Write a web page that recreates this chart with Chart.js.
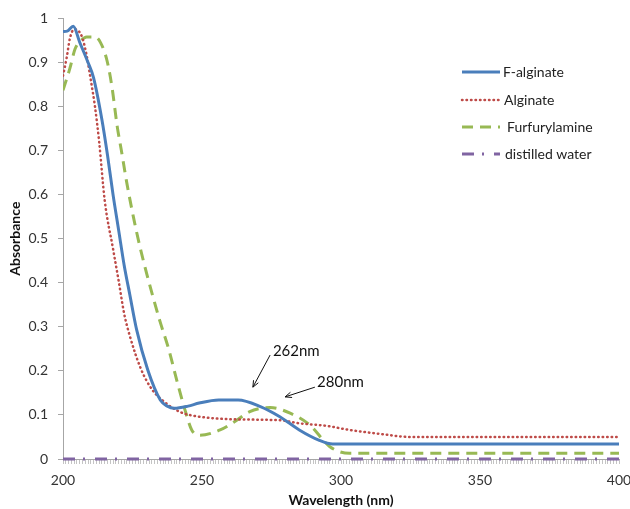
<!DOCTYPE html>
<html>
<head>
<meta charset="utf-8">
<script src="https://cdn.jsdelivr.net/npm/chart.js@4.4.0/dist/chart.umd.min.js"></script>
<style>
  html, body { margin: 0; padding: 0; background: #fff; }
</style>
</head>
<body>
<canvas id="uvChart" width="630" height="509"></canvas>
<script>
// Спектры поглощения, значения
const fAlginateNm = [200, 201.5, 203.7, 206, 209, 211, 214, 216, 218, 220, 222, 224, 226.5, 230.5, 235, 237.5, 240, 245, 249, 256, 263, 271, 278, 285, 292, 297, 400];
const fAlginateAbs = [0.97, 0.971, 0.982, 0.946, 0.9, 0.865, 0.77, 0.69, 0.6, 0.52, 0.44, 0.374, 0.293, 0.202, 0.134, 0.12, 0.115, 0.12, 0.127, 0.134, 0.134, 0.119, 0.096, 0.066, 0.043, 0.034, 0.034];

const alginateNm = [200, 201.3, 202.5, 204, 205.5, 207, 208.5, 210, 211.5, 213, 215, 218, 220, 222, 224, 228, 232, 237, 242, 248, 262, 278, 285, 295, 303, 314, 325, 400];
const alginateAbs = [0.87, 0.91, 0.955, 0.975, 0.972, 0.955, 0.916, 0.86, 0.8, 0.72, 0.587, 0.477, 0.405, 0.33, 0.28, 0.205, 0.158, 0.127, 0.107, 0.097, 0.09, 0.088, 0.081, 0.075, 0.066, 0.057, 0.05, 0.05];

const furfNm = [200, 202.5, 204.3, 206.5, 208.5, 211.5, 213.5, 215.8, 217.6, 219.5, 221, 223, 225.3, 227.7, 230.1, 232.5, 235, 238, 241, 243.9, 246.3, 249.3, 256.5, 262.5, 267, 274.5, 281.7, 288.8, 296, 303, 400];
const furfAbs = [0.837, 0.887, 0.93, 0.95, 0.958, 0.958, 0.945, 0.905, 0.845, 0.755, 0.7, 0.625, 0.55, 0.481, 0.421, 0.365, 0.31, 0.25, 0.177, 0.111, 0.066, 0.054, 0.066, 0.088, 0.107, 0.117, 0.104, 0.077, 0.028, 0.013, 0.013];

const waterNm = [200, 400];
const waterAbs = [0, 0];

const seriesLabels = ['F-alginate', 'Alginate', 'Furfurylamine', 'distilled water'];

// Подписи со стрелками: [текст, x текста, y текста, x начала, y начала, x конца, y конца]
const notes = [
    ['262nm', 275.5, 0.245, 274.5, 0.236, 268.3, 0.163],
    ['280nm', 291.4, 0.175, 290.6, 0.163, 279.9, 0.141]
];

const toPoints = (xs, ys) => xs.map((x, i) => ({ x: x, y: ys[i] }));

const ctx = document.getElementById('uvChart');

// Легенда внутри графика
const legendInside = {
    id: 'legendInside',
    afterDraw(chart) {
        const c = chart.ctx;
        const rows = [72, 100, 127, 154];
        const textX = [503, 504, 507, 505];
        chart.data.datasets.forEach((ds, i) => {
            c.save();
            c.strokeStyle = ds.borderColor;
            c.lineWidth = ds.borderWidth;
            c.lineCap = ds.borderCapStyle || 'butt';
            c.setLineDash(ds.borderDash || []);
            c.beginPath();
            c.moveTo(462, rows[i]);
            c.lineTo(500, rows[i]);
            c.stroke();
            c.setLineDash([]);
            c.fillStyle = '#222';
            c.font = '14px Lato';
            c.textBaseline = 'middle';
            c.fillText(ds.label, textX[i], rows[i]);
            c.restore();
        });
    }
};

// Стрелки с подписями длин волн
const arrowNotes = {
    id: 'arrowNotes',
    afterDraw(chart) {
        const c = chart.ctx;
        const sx = chart.scales.x;
        const sy = chart.scales.y;
        notes.forEach(n => {
            const x0 = sx.getPixelForValue(n[3]);
            const y0 = sy.getPixelForValue(n[4]);
            const x1 = sx.getPixelForValue(n[5]);
            const y1 = sy.getPixelForValue(n[6]);
            c.save();
            c.strokeStyle = '#111';
            c.lineWidth = 1;
            c.beginPath();
            c.moveTo(x0, y0);
            c.lineTo(x1, y1);
            const a = Math.atan2(y1 - y0, x1 - x0);
            const h = 7;
            c.moveTo(x1, y1);
            c.lineTo(x1 - h * Math.cos(a - 0.4), y1 - h * Math.sin(a - 0.4));
            c.moveTo(x1, y1);
            c.lineTo(x1 - h * Math.cos(a + 0.4), y1 - h * Math.sin(a + 0.4));
            c.stroke();
            c.fillStyle = '#111';
            c.font = '15px Lato';
            c.textBaseline = 'middle';
            c.fillText(n[0], sx.getPixelForValue(n[1]), sy.getPixelForValue(n[2]));
            c.restore();
        });
    }
};

new Chart(ctx, {
    type: 'line',
    data: {
        datasets: [
            {
                label: seriesLabels[0],
                data: toPoints(fAlginateNm, fAlginateAbs),
                borderColor: '#4a7ebb',
                borderWidth: 3,
                cubicInterpolationMode: 'monotone',
                pointRadius: 0,
                fill: false
            },
            {
                label: seriesLabels[1],
                data: toPoints(alginateNm, alginateAbs),
                borderColor: '#be4b48',
                borderWidth: 2.5,
                borderDash: [0.5, 4],
                borderCapStyle: 'round',
                cubicInterpolationMode: 'monotone',
                pointRadius: 0,
                fill: false
            },
            {
                label: seriesLabels[2],
                data: toPoints(furfNm, furfAbs),
                borderColor: '#98b954',
                borderWidth: 3,
                borderDash: [11, 7],
                cubicInterpolationMode: 'monotone',
                pointRadius: 0,
                fill: false
            },
            {
                label: seriesLabels[3],
                data: toPoints(waterNm, waterAbs),
                borderColor: '#8064a2',
                borderWidth: 3,
                borderDash: [12, 8, 2, 10],
                pointRadius: 0,
                fill: false,
                clip: false
            }
        ]
    },
    options: {
        responsive: false,
        animation: false,
        devicePixelRatio: 1,
        layout: { padding: { top: 18, right: 11, left: 0, bottom: 0 } },
        plugins: {
            legend: { display: false },
            tooltip: { enabled: false }
        },
        scales: {
            x: {
                type: 'linear',
                min: 200,
                max: 400,
                afterFit(scale) {
                    scale.height = 50;
                    scale.paddingLeft = 0;
                    scale.paddingRight = 0;
                },
                ticks: {
                    stepSize: 1,
                    autoSkip: false,
                    maxRotation: 0,
                    padding: 8,
                    color: '#333',
                    font: { family: 'Lato', size: 14 },
                    callback: v => (v % 50 === 0 ? v : '')
                },
                grid: {
                    drawOnChartArea: false,
                    tickLength: 5,
                    color: '#c4c4c4'
                },
                border: { color: '#a6a6a6' },
                title: {
                    display: true,
                    text: 'Wavelength (nm)',
                    color: '#111',
                    padding: { top: 0, bottom: 0 },
                    font: { family: 'Lato', size: 14, weight: 'bold' }
                }
            },
            y: {
                min: 0,
                max: 1,
                afterFit(scale) { scale.width = 63; },
                ticks: {
                    stepSize: 0.1,
                    padding: 10,
                    color: '#333',
                    font: { family: 'Lato', size: 14 },
                    callback: v => String(Number(v.toFixed(1)))
                },
                grid: {
                    drawOnChartArea: false,
                    tickLength: 5,
                    color: '#a6a6a6'
                },
                border: { color: '#a6a6a6' },
                title: {
                    display: true,
                    text: 'Absorbance',
                    color: '#111',
                    padding: { top: 7, bottom: 0 },
                    font: { family: 'Lato', size: 14, weight: 'bold' }
                }
            }
        }
    },
    plugins: [legendInside, arrowNotes]
});
</script>
</body>
</html>
